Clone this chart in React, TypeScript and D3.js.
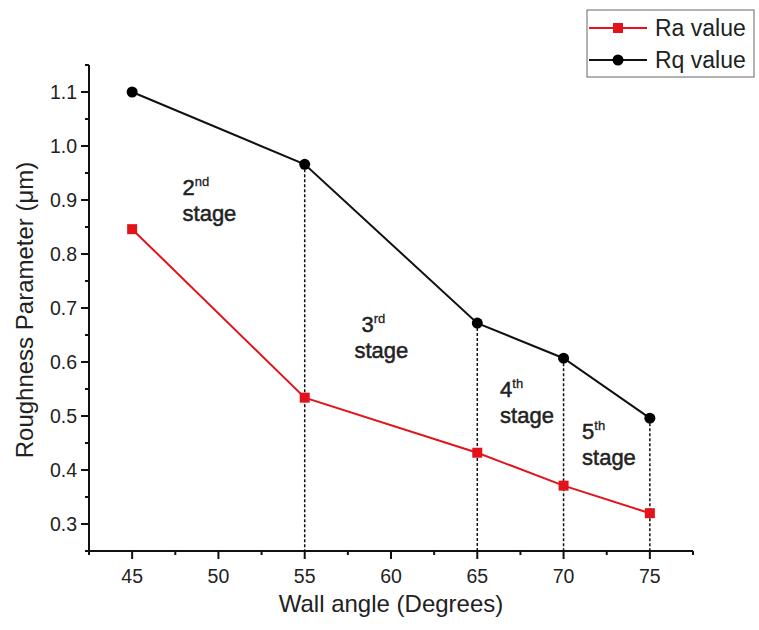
import React from "react";
import * as d3 from "d3";

const angles = [45, 55, 65, 70, 75];
const raValues = [0.846, 0.534, 0.432, 0.371, 0.32];
const rqValues = [1.1, 0.966, 0.672, 0.607, 0.496];
const xTicks = [45, 50, 55, 60, 65, 70, 75];
const yTicks = [0.3, 0.4, 0.5, 0.6, 0.7, 0.8, 0.9, 1.0, 1.1];
const dropAngles = [55, 65, 70, 75];
const stageNums = ["2", "3", "4", "5"];
const stageSuffix = ["nd", "rd", "th", "th"];
const stageX = [47.92, 57.88, 66.32, 71.07];
const stageY = [0.909, 0.656, 0.535, 0.457];
const stageIndent = [0, 7, 0, 0];

const W = 759;
const H = 630;
const margin = { left: 89, right: 66, top: 65, bottom: 79 };
const RED = "#e3131b";
const FONT = "'Liberation Sans', Arial, Helvetica, sans-serif";

export default function App() {
  const x = d3.scaleLinear().domain([42.5, 77.5]).range([margin.left, W - margin.right]);
  const y = d3.scaleLinear().domain([0.25, 1.15]).range([H - margin.bottom, margin.top]);
  const x0 = x.range()[0], x1 = x.range()[1];
  const yb = y.range()[0], yt = y.range()[1];

  const line = d3
    .line<number>()
    .x((_, i) => x(angles[i]))
    .y((d) => y(d));

  const xMinor = d3.range(42.5, 77.51, 5);
  const yMinor = d3.range(0.25, 1.151, 0.1);

  return (
    <div style={{ position: "absolute", left: 0, top: 0 }}>
      <svg width={W} height={H} style={{ display: "block", background: "#fff" }} fontFamily={FONT}>
        {/* drop lines */}
        {dropAngles.map((a) => {
          const i = angles.indexOf(a);
          return (
            <line
              key={"d" + a}
              x1={x(a)}
              x2={x(a)}
              y1={y(rqValues[i])}
              y2={yb}
              stroke="#111"
              strokeWidth={1.5}
              strokeDasharray="3,2"
            />
          );
        })}

        {/* axes */}
        <line x1={x0} x2={x1} y1={yb} y2={yb} stroke="#111" strokeWidth={2} />
        <line x1={x0} x2={x0} y1={yb} y2={yt} stroke="#111" strokeWidth={2} />
        {xTicks.map((t) => (
          <g key={"xt" + t}>
            <line x1={x(t)} x2={x(t)} y1={yb} y2={yb + 8} stroke="#111" strokeWidth={2} />
            <text x={x(t)} y={yb + 32} textAnchor="middle" fontSize={19.5} fill="#222">
              {t}
            </text>
          </g>
        ))}
        {xMinor.map((t) => (
          <line key={"xm" + t} x1={x(t)} x2={x(t)} y1={yb} y2={yb + 4} stroke="#111" strokeWidth={2} />
        ))}
        {yTicks.map((t) => (
          <g key={"yt" + t}>
            <line x1={x0 - 8} x2={x0} y1={y(t)} y2={y(t)} stroke="#111" strokeWidth={2} />
            <text x={x0 - 12} y={y(t) + 7} textAnchor="end" fontSize={19.5} fill="#222">
              {t.toFixed(1)}
            </text>
          </g>
        ))}
        {yMinor.map((t) => (
          <line key={"ym" + t} x1={x0 - 4} x2={x0} y1={y(t)} y2={y(t)} stroke="#111" strokeWidth={2} />
        ))}

        {/* axis titles */}
        <text x={(x0 + x1) / 2} y={612} textAnchor="middle" fontSize={24} fill="#222">
          Wall angle (Degrees)
        </text>
        <text transform={`translate(33,310) rotate(-90)`} textAnchor="middle" fontSize={24} fill="#222">
          Roughness Parameter (μm)
        </text>

        {/* series lines */}
        <path d={line(rqValues) || ""} fill="none" stroke="#111" strokeWidth={2} />
        <path d={line(raValues) || ""} fill="none" stroke={RED} strokeWidth={2} />
        {rqValues.map((v, i) => (
          <circle key={"rq" + i} cx={x(angles[i])} cy={y(v)} r={5.5} fill="#000" />
        ))}
        {raValues.map((v, i) => (
          <rect key={"ra" + i} x={x(angles[i]) - 5} y={y(v) - 5} width={10} height={10} fill={RED} />
        ))}

        {/* stage annotations */}
        {stageNums.map((n, i) => (
          <g key={"st" + i} fontSize={22} fill="#222" stroke="#222" strokeWidth={0.5}>
            <text x={x(stageX[i]) + stageIndent[i]} y={y(stageY[i])}>
              {n}
              <tspan fontSize={13} dy={-9} strokeWidth={0.3}>
                {stageSuffix[i]}
              </tspan>
            </text>
            <text x={x(stageX[i])} y={y(stageY[i]) + 26}>
              stage
            </text>
          </g>
        ))}

        {/* legend */}
        <rect x={587} y={10} width={167} height={67} fill="#fff" stroke="#666" strokeWidth={1} />
        <line x1={589} x2={647} y1={28} y2={28} stroke={RED} strokeWidth={2} />
        <rect x={613} y={23} width={10} height={10} fill={RED} />
        <text x={655} y={36} fontSize={23} fill="#222">
          Ra value
        </text>
        <line x1={589} x2={647} y1={60} y2={60} stroke="#111" strokeWidth={2} />
        <circle cx={618} cy={60} r={5.5} fill="#000" />
        <text x={655} y={68} fontSize={23} fill="#222">
          Rq value
        </text>
      </svg>
    </div>
  );
}
